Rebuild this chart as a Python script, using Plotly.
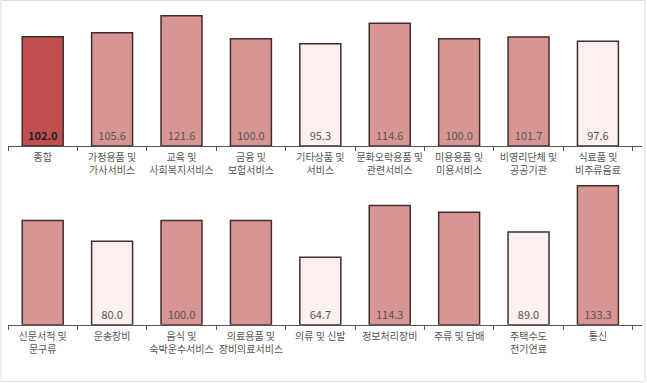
import plotly.graph_objects as go

top_cats = ["종합", "가정용품 및<br>가사서비스", "교육 및<br>사회복지서비스", "금융 및<br>보험서비스",
            "기타상품 및<br>서비스", "문화오락용품 및<br>관련서비스", "미용용품 및<br>미용서비스",
            "비영리단체 및<br>공공기관", "식료품 및<br>비주류음료"]
top_vals = [102.0, 105.6, 121.6, 100.0, 95.3, 114.6, 100.0, 101.7, 97.6]
top_labels = ["102.0", "105.6", "121.6", "100.0", "95.3", "114.6", "100.0", "101.7", "97.6"]

bot_cats = ["신문서적 및<br>문구류", "운송장비", "음식 및<br>숙박운수서비스", "의료용품 및<br>장비의료서비스",
            "의류 및 신발", "정보처리장비", "주류 및 담배", "주택수도<br>전기연료", "통신"]
bot_vals = [100.0, 80.0, 100.0, 100.0, 64.7, 114.3, 108.0, 89.0, 133.3]
bot_labels = ["", "80.0", "100.0", "", "64.7", "114.3", "", "89.0", "133.3"]

DARK = "#c0504f"
PINK = "#d99593"
LIGHT = "#fdf1ef"

def colors(vals, first_dark):
    out = []
    for i, v in enumerate(vals):
        if first_dark and i == 0:
            out.append(DARK)
        elif v >= 100:
            out.append(PINK)
        else:
            out.append(LIGHT)
    return out

W, H = 647, 383
FONT = "Noto Sans CJK KR"

fig = go.Figure()
fig.add_trace(go.Bar(
    x=top_cats, y=top_vals, text=[("<b>%s</b>" % t if i == 0 else t) for i, t in enumerate(top_labels)],
    textposition="inside", insidetextanchor="start", textangle=0,
    textfont=dict(family=FONT, size=11, color=["#222222"] + ["#555555"] * 8),
    marker=dict(color=colors(top_vals, True), line=dict(color="#3f2e2e", width=1.5)),
    xaxis="x", yaxis="y", cliponaxis=False, hoverinfo="skip",
))
fig.add_trace(go.Bar(
    x=bot_cats, y=bot_vals, text=bot_labels,
    textposition="inside", insidetextanchor="start", textangle=0,
    textfont=dict(family=FONT, size=11, color="#555555"),
    marker=dict(color=colors(bot_vals, False), line=dict(color="#3f2e2e", width=1.5)),
    xaxis="x2", yaxis="y2", cliponaxis=False, hoverinfo="skip",
))

x0, x1 = 8 / W, 642 / W
xr = [-0.5, 8.635]
common_x = dict(type="category", range=xr, showline=True, linecolor="#555555", linewidth=1.2,
                ticks="outside", tickson="boundaries", ticklen=4, tickcolor="#555555",
                tickangle=0, automargin=False, ticklabelstandoff=2,
                tickfont=dict(family=FONT, size=10, color="#555555"), showgrid=False, fixedrange=True,
                domain=[x0, x1])
fig.update_layout(
    width=W, height=H, margin=dict(l=0, r=0, t=0, b=0),
    paper_bgcolor="white", plot_bgcolor="white", showlegend=False, bargap=0.41,
    font=dict(family=FONT),
    uniformtext=dict(minsize=8, mode="show"),
    xaxis=dict(anchor="y", **common_x),
    yaxis=dict(domain=[1 - 146 / H, 1 - 8 / H], range=[0, 138 / 1.072], visible=False, fixedrange=True,
               automargin=False),
    xaxis2=dict(anchor="y2", **common_x),
    yaxis2=dict(domain=[1 - 324.7 / H, 1 - 180 / H], range=[0, 144.7 / 1.042], visible=False, fixedrange=True,
                automargin=False),
    shapes=[dict(type="rect", xref="paper", yref="paper", x0=1 / W, x1=645 / W, y0=1 - 381.5 / H, y1=1 - 0.5 / H,
                 line=dict(color="#dddddd", width=1))],
)

fig.write_html("out.html", config={"displayModeBar": False},
               post_script="document.body.style.margin='0';document.body.style.overflow='hidden';")
